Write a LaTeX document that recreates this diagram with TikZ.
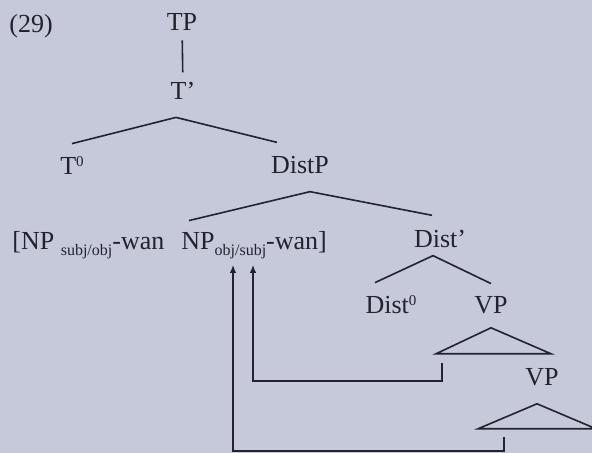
\documentclass[tikz,border=0pt]{standalone}
\usepackage{fontspec}
\setmainfont{Liberation Serif}
\usetikzlibrary{arrows.meta,calc}
\definecolor{paper}{RGB}{197,201,218}
\definecolor{ink}{RGB}{34,35,46}
\newcommand{\losub}[1]{\raisebox{-2.5pt}{\fontsize{8}{9}\selectfont #1}}
\newcommand{\hisup}[1]{\raisebox{4pt}{\fontsize{7.5}{8}\selectfont #1}}
\tikzset{
  cat/.style={anchor=base, inner xsep=0pt, inner ysep=6.5pt, text=ink, font=\fontsize{13}{15}\selectfont},
  branch/.style={draw=ink, line width=0.8pt},
  roof/.style={draw=ink, line width=0.8pt, line join=miter},
  trace/.style={draw=ink, line width=0.7pt, -{Latex[length=4pt,width=3.4pt]}},
}

\begin{document}
\begin{tikzpicture}[x=0.5pt, y=-0.5pt]
    \path[use as bounding box, fill=paper] (0,0) rectangle (592,453);

    \node[cat] (ex) at (31,33) {(29)};
    \node[cat] (TP) at (182,31) {TP};
    \node[cat] (Tbar) at (183,100) {T'};
    \node[cat] (T0) at (72,175) {T\hisup{0}};
    \node[cat] (DistP) at (300,174) {DistP};
    \node[cat, anchor=base west] (NPa) at (12,250) {[NP \losub{subj/obj}-wan};
    \node[cat, anchor=base west] (NPb) at (181,250) {NP\losub{obj/subj}-wan]};
    \node[cat] (Distbar) at (440,248) {Dist'};
    \node[cat] (Dist0) at (391,314) {Dist\hisup{0}};
    \node[cat] (VPa) at (491,314) {VP};
    \node[cat] (VPb) at (542,385) {VP};

    % branches
    \draw[branch, shorten <=-2pt, shorten >=-1.5pt] (TP) -- (Tbar);
    \draw[branch] ($(Tbar.south)+(-7,4)$) -- (T0.north);
    \draw[branch] ($(Tbar.south)+(-7,4)$) -- ($(DistP.north)+(-23,-1)$);
    \draw[branch] ($(DistP.south)+(10,4)$) -- ($(NPb.north west)+(8,2)$);
    \draw[branch] ($(DistP.south)+(10,4)$) -- ($(Distbar.north)+(-8,-2)$);
    \draw[branch] ($(Distbar.south)+(-7,-6)$) -- ($(Dist0.north)+(-16,0)$);
    \draw[branch] ($(Distbar.south)+(-7,-6)$) -- (VPa.north);

    % roofs
    \draw[roof] (VPa.south) -- ++(-55,26) -- ++(115,0) -- cycle;
    \draw[roof] ($(VPb.south)+(-5,5)$) -- ++(-59,25) -- ++(118,0) -- cycle;

    % movement
    \coordinate (trace1) at (442,363);
    \coordinate (trace2) at (504,437);
    \coordinate (subjtip) at (253,265);
    \coordinate (objtip) at (233,265);
    \draw[trace] (trace1) -- ++(0,18) -| (subjtip);
    \draw[trace] (trace2) -- ++(0,14) -| (objtip);
\end{tikzpicture}
\end{document}
